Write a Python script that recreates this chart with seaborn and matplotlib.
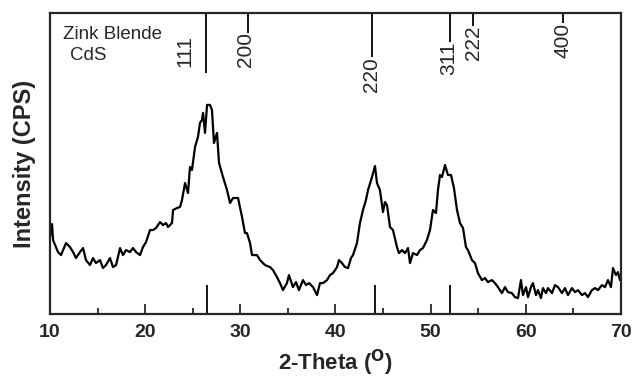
import numpy as np
import pandas as pd
import seaborn as sns
import matplotlib.pyplot as plt

# XRD pattern (intensity in arbitrary units)
two_theta = [10.11, 10.21, 10.32, 10.84, 11.16, 11.68, 12.10, 12.42, 12.73, 13.15,
             13.47, 13.78, 14.20, 14.52, 14.83, 15.25, 15.57, 15.88, 16.30, 16.62,
             16.94, 17.36, 17.67, 17.99, 18.41, 18.72, 19.04, 19.46, 19.77, 20.09,
             20.51, 20.82, 21.14, 21.56, 21.87, 22.19, 22.40, 22.82, 22.93, 23.35,
             23.66, 23.87, 24.19, 24.50, 24.71, 24.92, 25.24, 25.55, 25.76, 25.97,
             26.08, 26.29, 26.50, 26.81, 27.02, 27.23, 27.55, 27.76, 28.18, 28.60,
             28.92, 29.23, 29.76, 30.18, 30.49, 30.70, 31.02, 31.23, 31.75, 32.07,
             32.59, 33.12, 33.43, 33.85, 34.17, 34.48, 34.90, 35.11, 35.53, 35.85,
             36.16, 36.58, 36.90, 37.22, 37.64, 38.06, 38.37, 38.69, 39.11, 39.42,
             39.74, 40.16, 40.37, 40.68, 41.00, 41.32, 41.63, 41.84, 42.26, 42.57,
             42.89, 43.20, 43.42, 43.84, 44.15, 44.36, 44.67, 44.99, 45.20, 45.41,
             45.73, 46.04, 46.46, 46.67, 46.99, 47.30, 47.62, 47.83, 48.14, 48.56,
             48.88, 49.19, 49.61, 49.93, 50.24, 50.56, 50.77, 50.98, 51.19, 51.51,
             51.82, 52.14, 52.45, 52.77, 53.08, 53.40, 53.71, 53.92, 54.34, 54.66,
             54.97, 55.39, 55.71, 56.02, 56.44, 56.76, 57.07, 57.49, 57.81, 58.12,
             58.54, 58.86, 59.18, 59.49, 59.70, 60.02, 60.23, 60.54, 60.75, 61.07,
             61.28, 61.59, 61.80, 62.12, 62.33, 62.75, 63.07, 63.38, 63.80, 64.12,
             64.43, 64.85, 65.17, 65.48, 65.90, 66.22, 66.53, 66.95, 67.27, 67.58,
             68.00, 68.32, 68.63, 68.95, 69.16, 69.47, 69.68, 69.89]
intensity = [79, 90, 74, 62, 59, 71, 67, 62, 56, 62,
             66, 54, 49, 56, 51, 54, 46, 49, 56, 47,
             49, 66, 59, 64, 62, 66, 62, 59, 67, 72,
             84, 84, 86, 92, 89, 91, 87, 91, 104, 106,
             107, 114, 131, 121, 147, 144, 167, 177, 191, 194,
             201, 181, 209, 209, 204, 171, 181, 151, 137, 124,
             111, 116, 116, 97, 81, 81, 71, 59, 59, 54,
             49, 47, 44, 37, 31, 24, 31, 39, 27, 32,
             24, 34, 29, 31, 27, 19, 31, 31, 34, 39,
             41, 47, 54, 51, 47, 46, 56, 59, 71, 91,
             104, 114, 124, 137, 148, 131, 124, 102, 112, 109,
             87, 84, 67, 61, 64, 61, 66, 51, 61, 59,
             64, 66, 74, 84, 104, 101, 124, 139, 137, 149,
             139, 139, 126, 104, 91, 86, 67, 64, 54, 51,
             41, 34, 36, 32, 34, 31, 27, 21, 27, 22,
             21, 17, 16, 34, 19, 27, 17, 27, 31, 19,
             24, 16, 26, 21, 26, 21, 29, 27, 21, 26,
             19, 26, 22, 24, 19, 21, 17, 24, 26, 24,
             29, 27, 34, 27, 46, 39, 42, 34]

# Zinc blende CdS reference reflections
hkl = ["111", "200", "220", "311", "222", "400"]
ref_theta = [26.4, 30.8, 43.8, 52.0, 54.4, 63.9]
ref_line_end = [241, 281, 257, 272, 288, 291]
label_x = [24.2, 30.5, 43.8, 51.9, 54.5, 63.9]
label_top = [279, 282, 257, 272, 288, 291]

# sample peak markers on the bottom axis
peak_theta = [26.45, 44.2, 52.0]

df = pd.DataFrame({"2theta": two_theta, "I": intensity})

sns.set_style("ticks")
plt.rcParams["font.family"] = ["Liberation Sans", "DejaVu Sans"]

fig = plt.figure(figsize=(6.33, 3.78), dpi=100)
ax = fig.add_axes([0.079, 0.169, 0.902, 0.797])

sns.lineplot(data=df, x="2theta", y="I", ax=ax, color="black", lw=1.6)

ymax = 301
ax.vlines(ref_theta, ref_line_end, ymax, color="black", lw=1.3)
for lab, lx, ly in zip(hkl, label_x, label_top):
    ax.text(lx, ly, lab, rotation=90, ha="center", va="top", fontsize=15)
ax.vlines(peak_theta, 0, 29, color="black", lw=1.3)

ax.text(11.4, 275, "Zink Blende", fontsize=13.5, va="baseline")
ax.text(12.1, 254, "CdS", fontsize=13.5, va="baseline")

ax.set_xlim(10, 70)
ax.set_ylim(0, ymax)
ax.set_xticks(range(10, 71, 10))
ax.set_xticks(range(15, 70, 10), minor=True)
ax.set_yticks([])
ax.tick_params(axis="x", which="major", direction="in", length=7, width=1.3,
               pad=7, labelsize=14)
ax.tick_params(axis="x", which="minor", direction="in", length=4, width=1.3)
for lbl in ax.get_xticklabels():
    lbl.set_fontweight("bold")
for sp in ax.spines.values():
    sp.set_linewidth(1.6)

ax.set_xlabel(r"2-Theta ($\mathbf{^O}$)", fontsize=16, fontweight="bold", labelpad=5)
ax.set_ylabel("Intensity (CPS)", fontsize=17, fontweight="bold", labelpad=10)

fig.savefig("out.png", dpi=100)
